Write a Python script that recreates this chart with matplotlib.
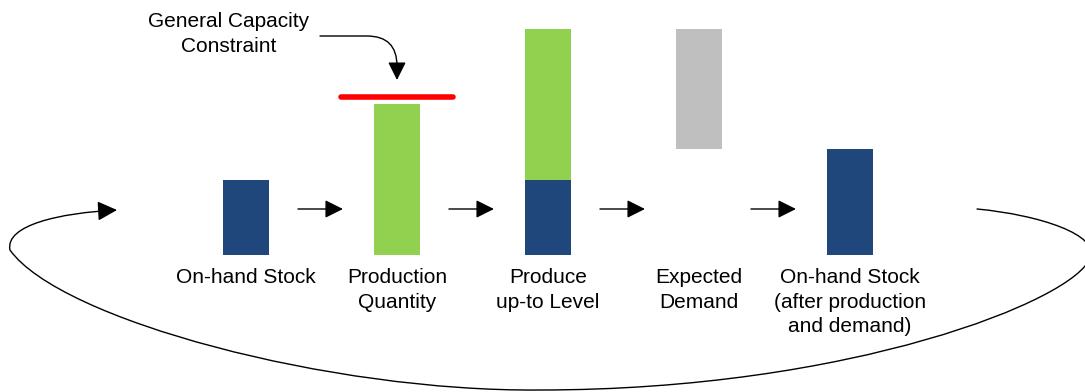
import matplotlib.pyplot as plt
from matplotlib.patches import FancyArrowPatch
from matplotlib.path import Path

# stage labels along the production cycle
stages = ["On-hand Stock", "Production\nQuantity", "Produce\nup-to Level",
          "Expected\nDemand", "On-hand Stock\n(after production\nand demand)"]

# stacked segment values per stage
stock_vals = [75, 0, 75, 0, 106]
prod_vals = [0, 151, 151, 0, 0]
prod_bottom = [0, 0, 75, 0, 0]
demand_vals = [0, 0, 0, 120, 0]
demand_bottom = [0, 0, 0, 106, 0]
capacity = 158

BLUE = "#1F477B"
GREEN = "#92D050"
GREY = "#BFBFBF"
RED = "#FF0000"

plt.rcParams['font.family'] = ['Liberation Sans', 'DejaVu Sans']

fig = plt.figure(figsize=(10.85, 3.92), dpi=100)
ax = fig.add_axes([0, 0, 1, 1])
ax.set_xlim(-1.629, 5.556)
ax.set_ylim(-137, 255)
ax.axis('off')

x = list(range(len(stages)))
w = 0.3
ax.bar(x, stock_vals, width=w, color=BLUE)
ax.bar(x, prod_vals, width=w, bottom=prod_bottom, color=GREEN)
ax.bar(x, demand_vals, width=w, bottom=demand_bottom, color=GREY)

# stage labels under the bars
for i, lab in enumerate(stages):
    ax.text(i, -13, lab, ha='center', va='top', fontsize=15, linespacing=1.38)

# capacity limit over the production bar
ax.plot([1 - 0.37, 1 + 0.37], [capacity, capacity], color=RED, lw=4,
        solid_capstyle='round')
ax.text(-0.113, 221, "General Capacity\nConstraint", ha='center', va='center',
        fontsize=15, linespacing=1.38)
ax.add_patch(FancyArrowPatch((0.49, 219), (1.0, 175),
                             connectionstyle="angle,angleA=0,angleB=90,rad=30",
                             arrowstyle='-|>,head_length=0.5,head_width=0.25',
                             mutation_scale=22, lw=1, color='black',
                             shrinkA=0, shrinkB=0))

# small arrows between stages
for i in range(len(stages) - 1):
    ax.add_patch(FancyArrowPatch((i + 0.344, 46), (i + 0.642, 46),
                                 arrowstyle='-|>,head_length=0.5,head_width=0.25',
                                 mutation_scale=22, lw=1,
                                 color='black', shrinkA=0, shrinkB=0))

# feedback loop back to the start
loop_pts = [(4.841, 46),
            (5.258, 40), (5.656, 20), (5.589, -3),
            (5.490, -45), (4.0, -135), (1.947, -135),
            (0.556, -137), (-1.232, -65), (-1.563, 5),
            (-1.596, 30), (-1.232, 42), (-0.854, 45)]
codes = [Path.MOVETO] + [Path.CURVE4] * 12
ax.add_patch(FancyArrowPatch(path=Path(loop_pts, codes),
                             arrowstyle='-|>,head_length=0.5,head_width=0.25',
                             mutation_scale=24, lw=1, color='black'))

fig.savefig("out.png", dpi=100)
